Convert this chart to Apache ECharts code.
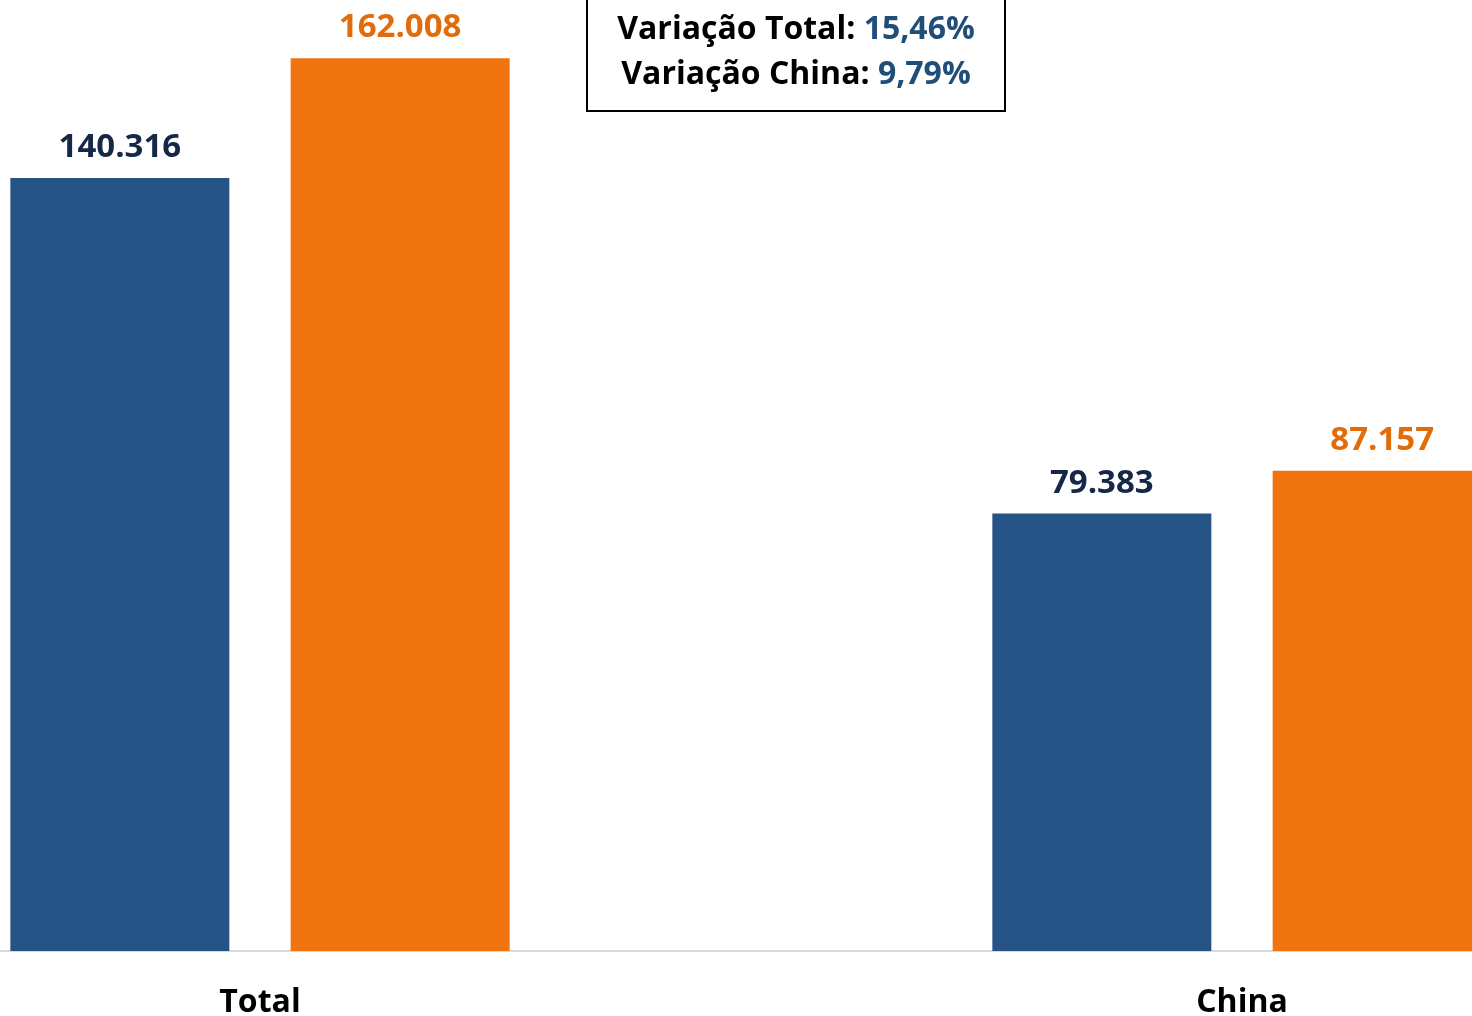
<!DOCTYPE html>
<html>
<head>
<meta charset="utf-8">
<script src="https://cdn.jsdelivr.net/npm/echarts@6/dist/echarts.min.js"></script>
<style>
html,body{margin:0;padding:0;background:#fff}
#main{width:1472px;height:1016px}
</style>
</head>
<body>
<div id="main"></div>
<script>
// dados
const categorias=['Total','China']
const serieA=[140316,79383]
const serieB=[162008,87157]
const variacoes=[['Variação Total: ','15,46%'],['Variação China: ','9,79%']]

const fonte='"Open Sans", "Noto Sans", sans-serif'
const fmt=v=>v.toLocaleString('de-DE')

let chart=echarts.init(document.getElementById('main'))
let option={
    backgroundColor:'#ffffff',
    animation:false,
    grid:{left:-231,width:1964,top:0,bottom:65,containLabel:false,outerBoundsMode:'none'},
    xAxis:{
        type:'category',
        data:categorias,
        axisLine:{lineStyle:{color:'#d9d9d9',width:2}},
        axisTick:{show:false},
        axisLabel:{color:'#000',fontFamily:fonte,fontWeight:'bold',fontSize:32,margin:36}
    },
    yAxis:{type:'value',min:0,max:172600,show:false,splitLine:{show:false}},
    series:[
        {
            type:'bar',
            data:serieA,
            barWidth:219,
            barGap:'28%',
            itemStyle:{color:'#265385'},
            label:{show:true,position:'top',distance:14,formatter:p=>fmt(p.value),
                color:'#152847',fontFamily:fonte,fontWeight:'bold',fontSize:33}
        },
        {
            type:'bar',
            data:serieB,
            barWidth:219,
            itemStyle:{color:'#f07510'},
            label:{show:true,position:'top',distance:14,formatter:p=>fmt(p.value),
                color:'#e36c0a',fontFamily:fonte,fontWeight:'bold',fontSize:33}
        }
    ],
    graphic:[
        {
            type:'rect',
            shape:{x:587,y:-5,width:418,height:116},
            style:{fill:'#fff',stroke:'#000',lineWidth:2}
        },
        {
            type:'text',
            x:796,y:52,
            style:{
                text:variacoes.map(v=>'{a|'+v[0]+'}{b|'+v[1]+'}').join('\n'),
                align:'center',verticalAlign:'middle',
                lineHeight:45,
                rich:{
                    a:{fontFamily:fonte,fontWeight:'bold',fontSize:32,fill:'#000',lineHeight:45},
                    b:{fontFamily:fonte,fontWeight:'bold',fontSize:32,fill:'#1f4e79',lineHeight:45}
                }
            }
        }
    ]
}
chart.setOption(option)
</script>
</body>
</html>
